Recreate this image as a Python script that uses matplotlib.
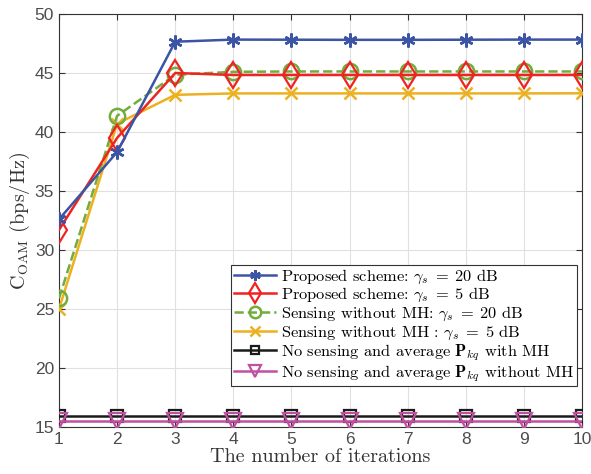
import matplotlib
matplotlib.use("Agg")
import matplotlib.pyplot as plt
import numpy as np

plt.rcParams['mathtext.fontset'] = 'cm'
plt.rcParams['font.family'] = ['Liberation Sans', 'DejaVu Sans']

iterations = np.arange(1, 11)
# values
proposed_20 = [32.6, 38.3, 47.65, 47.83, 47.82, 47.81, 47.81, 47.82, 47.83, 47.83]
proposed_5 = [31.7, 39.5, 45.0, 44.83, 44.83, 44.83, 44.83, 44.83, 44.83, 44.83]
nomh_20 = [25.9, 41.37, 44.85, 45.1, 45.13, 45.13, 45.13, 45.13, 45.13, 45.13]
nomh_5 = [25.0, 40.7, 43.15, 43.27, 43.27, 43.27, 43.27, 43.27, 43.27, 43.28]
avg_mh = [15.95] * 10
avg_nomh = [15.55] * 10

labels = [
    r'Proposed scheme: $\gamma_s \;=\; 20$ dB',
    r'Proposed scheme: $\gamma_s \;=\; 5$ dB',
    r'Sensing without MH: $\gamma_s \;=\; 20$ dB',
    r'Sensing without MH : $\gamma_s \;=\; 5$ dB',
    r'No sensing and average $\mathbf{P}_{kq}$ with MH',
    r'No sensing and average $\mathbf{P}_{kq}$ without MH',
]

fig = plt.figure(figsize=(5.91, 4.74), dpi=100)
ax = fig.add_axes([0.0998, 0.099, 0.8852, 0.8715])

ax.plot(iterations, proposed_20, '-', color='#3b54a3', lw=1.8, marker=(6, 2, 0),
        ms=10, mew=1.8, label=labels[0], zorder=6)
ax.plot(iterations, proposed_5, '-', color='#f02323', lw=1.8, marker='d', ms=13,
        mfc='none', mew=1.6, label=labels[1], zorder=5)
ax.plot(iterations, nomh_20, '--', color='#72ad3c', lw=1.8, marker='o', ms=11,
        mfc='none', mew=1.8, label=labels[2], zorder=4)
ax.plot(iterations, nomh_5, '-', color='#edb120', lw=1.8, marker='x', ms=9,
        mew=1.8, label=labels[3], zorder=3)
ax.plot(iterations, avg_mh, '-', color='#1a1a1a', lw=1.8, marker='s', ms=8,
        mfc='none', mew=1.6, label=labels[4], zorder=3)
ax.plot(iterations, avg_nomh, '-', color='#c050a0', lw=1.8, marker='v', ms=11,
        mfc='none', mew=1.6, label=labels[5], zorder=3)

ax.set_xlim(1, 10)
ax.set_ylim(15, 50)
ax.set_xticks(iterations)
ax.set_yticks(np.arange(15, 51, 5))
ax.grid(True, color='#e0e0e0', lw=0.8)
ax.set_axisbelow(True)
ax.tick_params(direction='in', top=True, right=True, labelsize=12.5,
               labelcolor='#4d4d4d', color='#333333', length=4)
for s in ax.spines.values():
    s.set_color('#333333')
    s.set_linewidth(0.8)

ax.set_xlabel('The number of iterations', family='cmr10', fontsize=14.5,
              color='#333333', labelpad=1)
ax.set_ylabel(r'C$_{\mathrm{OAM}}$ (bps/Hz)', family='cmr10', fontsize=14.5,
              color='#333333', labelpad=2)

leg = ax.legend(loc='lower right', bbox_to_anchor=(0.990, 0.099),
                prop={'family': 'cmr10', 'size': 11.8}, markerscale=0.75,
                fancybox=False, framealpha=1, edgecolor='#333333',
                handlelength=2.6, borderpad=0.15, labelspacing=0.02,
                handletextpad=0.3, borderaxespad=0)
leg.get_frame().set_linewidth(0.8)

fig.savefig('out.png', dpi=100)
